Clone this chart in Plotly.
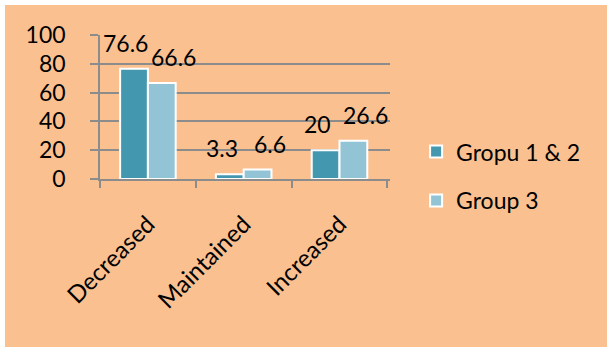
import plotly.graph_objects as go

categories = ["Decreased", "Maintained", "Increased"]
group_12 = [76.6, 3.3, 20]
group_3 = [66.6, 6.6, 26.6]
series_names = ["Gropu 1 & 2", "Group 3"]
y_ticks = [0, 20, 40, 60, 80, 100]

FONT = "Lato, 'Open Sans', sans-serif"
FS = 23
TEAL = "#4398B0"
LIGHT = "#93C4D6"
PEACH = "#FAC090"
GRID = "#8C8C8C"

# plot-area geometry in pixels (used to place the page background)
L, R, T, B = 100, 390, 35, 179
W, H = 607, 347


def px_to_paper_x(px):
    return (px - L) / (R - L)


def px_to_paper_y(py):
    return (B - py) / (B - T)


fig = go.Figure()
for name, vals, col in [(series_names[0], group_12, TEAL), (series_names[1], group_3, LIGHT)]:
    fig.add_trace(go.Bar(
        x=categories, y=vals, name=name, legendgroup=name,
        marker=dict(color=col, line=dict(color="white", width=2)),
    ))

# value labels sitting above and to the side of each bar
for vals, dx in [(group_12, -22), (group_3, 26)]:
    for c, v in zip(categories, vals):
        fig.add_annotation(
            x=c, y=v, xref="x", yref="y", text=f"{v:g}", showarrow=False,
            xshift=dx, yshift=26, yanchor="middle", xanchor="center",
            font=dict(family=FONT, size=FS, color="black"),
        )

fig.add_shape(
    type="rect", xref="paper", yref="paper", layer="below",
    x0=px_to_paper_x(5), x1=px_to_paper_x(W + 5),
    y0=px_to_paper_y(W), y1=px_to_paper_y(5),
    fillcolor=PEACH, line=dict(width=0),
)

fig.update_layout(
    width=W, height=H,
    margin=dict(l=L, r=W - R, t=T, b=H - B),
    paper_bgcolor="white", plot_bgcolor="rgba(0,0,0,0)",
    barmode="group", bargap=0.42, bargroupgap=0,
    font=dict(family=FONT, size=FS, color="black"),
    showlegend=True,
    legend=dict(
        x=1.09, xanchor="left", y=0.02, yanchor="middle",
        bgcolor="rgba(0,0,0,0)", tracegroupgap=16,
        font=dict(family=FONT, size=FS, color="black"),
    ),
    xaxis=dict(
        type="category", showgrid=False, showline=True, linecolor=GRID, linewidth=1.5,
        ticks="outside", tickson="boundaries", ticklen=7, tickcolor=GRID, tickwidth=1.5,
        tickangle=-45, tickfont=dict(family=FONT, size=24, color="black"),
        ticklabelstandoff=20,
    ),
    yaxis=dict(
        range=[0, 100], tickvals=y_ticks, showgrid=True, gridcolor=GRID, gridwidth=1.5,
        showline=True, linecolor=GRID, linewidth=1.5, zeroline=False,
        ticks="outside", ticklen=8, tickcolor=GRID, tickwidth=1.5,
        tickfont=dict(family=FONT, size=FS, color="black"),
        ticklabelstandoff=20,
    ),
)

fig.write_html("out.html")
